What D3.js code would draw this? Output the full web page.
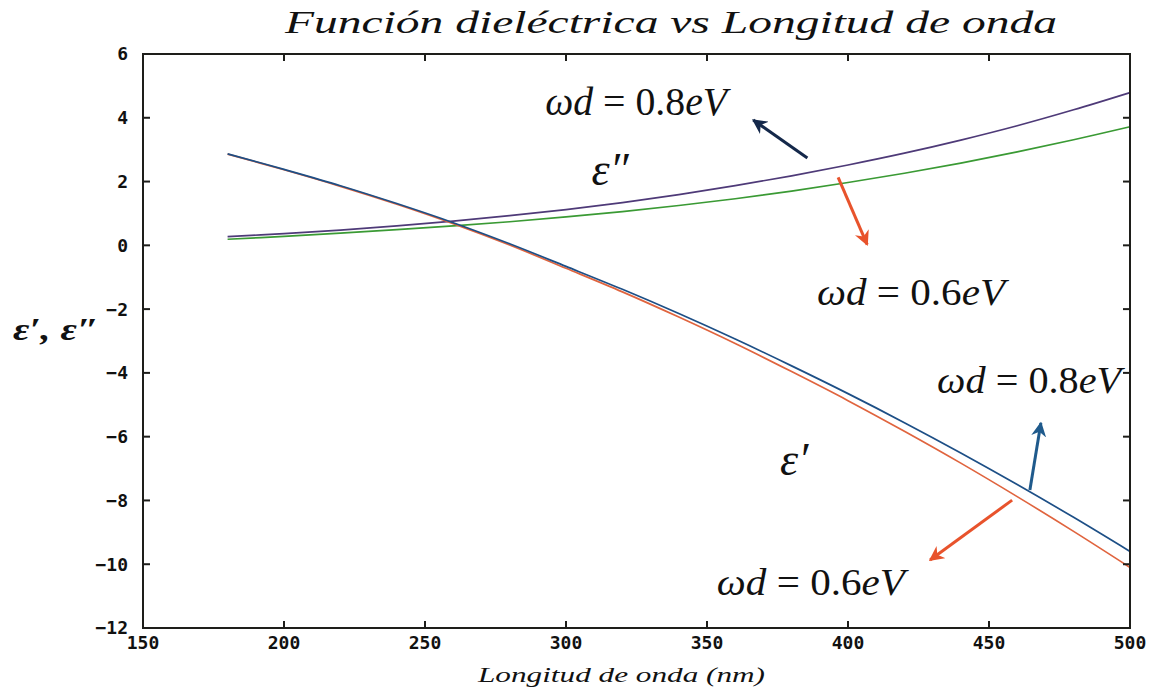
<!DOCTYPE html>
<html>
<head>
<meta charset="utf-8">
<script src="https://cdn.jsdelivr.net/npm/d3@7"></script>
<style>
  body { margin: 0; background: #fff; }
</style>
</head>
<body>
<script>
// ---------------- data ----------------
var wavelengths = [180, 200, 220, 240, 260, 280, 300, 320, 340, 360, 380, 400, 420, 440, 460, 480, 500];

// eps' (real part)
var epsReal08 = [2.87, 2.38, 1.87, 1.31, 0.71, 0.05, -0.66, -1.38, -2.14, -2.94, -3.78, -4.65, -5.56, -6.51, -7.50, -8.53, -9.60];
var epsReal06 = [2.86, 2.37, 1.85, 1.29, 0.68, 0.01, -0.72, -1.46, -2.25, -3.08, -3.96, -4.87, -5.83, -6.83, -7.88, -8.97, -10.10];

// eps'' (imaginary part)
var epsImag08 = [0.27, 0.37, 0.48, 0.61, 0.76, 0.93, 1.12, 1.34, 1.59, 1.87, 2.18, 2.52, 2.89, 3.30, 3.75, 4.25, 4.79];
var epsImag06 = [0.19, 0.28, 0.38, 0.49, 0.61, 0.74, 0.89, 1.06, 1.25, 1.46, 1.70, 1.97, 2.26, 2.58, 2.93, 3.31, 3.72];

var xTicks = [150, 200, 250, 300, 350, 400, 450, 500];
var yTicks = [-12, -10, -8, -6, -4, -2, 0, 2, 4, 6];

var title = "Función dieléctrica vs Longitud de onda";
var xLabel = "Longitud de onda (nm)";

// ---------------- setup ----------------
var width = 1157, height = 692;
var plotLeft = 143, plotRight = 1130, plotTop = 54, plotBottom = 628;

var svg = d3.select("body").append("svg")
  .attr("width", width)
  .attr("height", height)
  .style("background", "#fff");

var x = d3.scaleLinear().domain([150, 500]).range([plotLeft, plotRight]);
var y = d3.scaleLinear().domain([-12, 6]).range([plotBottom, plotTop]);

var tickFont = "'DejaVu Sans Mono', monospace";
var serif = "'Liberation Serif', 'DejaVu Serif', serif";

// arrow head marker
function marker(id, color) {
  svg.append("defs").append("marker")
    .attr("id", id)
    .attr("viewBox", "0 0 10 10")
    .attr("refX", 9).attr("refY", 5)
    .attr("markerWidth", 5).attr("markerHeight", 5)
    .attr("orient", "auto")
    .append("path")
    .attr("d", "M0,0 L10,5 L0,10 L3,5 Z")
    .attr("fill", color);
}
marker("headNavy", "#14284a");
marker("headRed", "#e8532c");
marker("headBlue", "#1f5a8c");

// ---------------- curves ----------------
var line = d3.line()
  .x(function(d) { return x(d[0]); })
  .y(function(d) { return y(d[1]); })
  .curve(d3.curveCatmullRom.alpha(0.5));

var series = [
  { vals: epsImag06, color: "#3a9a34" },
  { vals: epsImag08, color: "#4e3a78" },
  { vals: epsReal06, color: "#e0643e" },
  { vals: epsReal08, color: "#1d4f86" }
];

svg.selectAll("path.curve")
  .data(series)
  .enter().append("path")
  .attr("class", "curve")
  .attr("d", function(s) { return line(d3.zip(wavelengths, s.vals)); })
  .attr("fill", "none")
  .attr("stroke", function(s) { return s.color; })
  .attr("stroke-width", 1.7);

// ---------------- frame and ticks ----------------
var tickLen = 7;
var frame = svg.append("g").attr("stroke", "#1e1e1a").attr("stroke-width", 2);

frame.append("rect")
  .attr("x", plotLeft).attr("y", plotTop)
  .attr("width", plotRight - plotLeft).attr("height", plotBottom - plotTop)
  .attr("fill", "none");

xTicks.forEach(function(t) {
  frame.append("line").attr("x1", x(t)).attr("x2", x(t)).attr("y1", plotBottom).attr("y2", plotBottom - tickLen);
  frame.append("line").attr("x1", x(t)).attr("x2", x(t)).attr("y1", plotTop).attr("y2", plotTop + tickLen);
});
yTicks.forEach(function(t) {
  frame.append("line").attr("x1", plotLeft).attr("x2", plotLeft + tickLen).attr("y1", y(t)).attr("y2", y(t));
  frame.append("line").attr("x1", plotRight).attr("x2", plotRight - tickLen).attr("y1", y(t)).attr("y2", y(t));
});

svg.append("g").selectAll("text")
  .data(xTicks)
  .enter().append("text")
  .attr("x", function(d) { return x(d); })
  .attr("y", plotBottom + 21)
  .attr("text-anchor", "middle")
  .style("font-family", tickFont)
  .style("font-weight", "bold")
  .style("font-size", "18px")
  .attr("fill", "#111")
  .text(function(d) { return d; });

svg.append("g").selectAll("text")
  .data(yTicks)
  .enter().append("text")
  .attr("x", plotLeft - 15)
  .attr("y", function(d) { return y(d); })
  .attr("dy", "0.36em")
  .attr("text-anchor", "end")
  .style("font-family", tickFont)
  .style("font-weight", "bold")
  .style("font-size", "18px")
  .attr("fill", "#111")
  .text(function(d) { return d3.format("d")(d); });

// ---------------- titles ----------------
svg.append("text")
  .attr("x", 285).attr("y", 33)
  .attr("textLength", 772).attr("lengthAdjust", "spacingAndGlyphs")
  .style("font-family", serif)
  .style("font-style", "italic")
  .style("font-size", "32px")
  .attr("fill", "#111")
  .text(title);

svg.append("text")
  .attr("x", 478).attr("y", 682)
  .attr("textLength", 287).attr("lengthAdjust", "spacingAndGlyphs")
  .style("font-family", serif)
  .style("font-style", "italic")
  .style("font-size", "22px")
  .attr("fill", "#111")
  .text(xLabel);

svg.append("text")
  .attr("x", 13).attr("y", 340)
  .attr("textLength", 86).attr("lengthAdjust", "spacingAndGlyphs")
  .style("font-family", serif)
  .style("font-style", "italic")
  .style("font-weight", "bold")
  .style("font-size", "32px")
  .attr("fill", "#111")
  .text("\u03b5\u2032, \u03b5\u2033");

// ---------------- annotations (data coordinates) ----------------
function omegaLabel(lam, val, value, len, size) {
  var t = svg.append("text")
    .attr("x", x(lam)).attr("y", y(val))
    .attr("textLength", len).attr("lengthAdjust", "spacingAndGlyphs")
    .style("font-family", serif)
    .style("font-size", size + "px")
    .attr("fill", "#111");
  t.append("tspan").style("font-style", "italic").text("\u03c9d");
  t.append("tspan").text(" = " + value);
  t.append("tspan").style("font-style", "italic").text("eV");
}

omegaLabel(292.6, 4.08, "0.8", 182, 40);
omegaLabel(389.0, -1.87, "0.6", 188, 38);
omegaLabel(431.6, -4.64, "0.8", 184, 38);
omegaLabel(353.5, -10.97, "0.6", 188, 38);

svg.append("text")
  .attr("x", x(309.0)).attr("y", y(1.88))
  .style("font-family", serif)
  .style("font-style", "italic")
  .style("font-size", "46px")
  .attr("fill", "#111")
  .text("\u03b5\u2033");

svg.append("text")
  .attr("x", x(375.9)).attr("y", y(-7.2))
  .style("font-family", serif)
  .style("font-style", "italic")
  .style("font-size", "46px")
  .attr("fill", "#111")
  .text("\u03b5\u2032");

var arrows = [
  { from: [385.6, 2.74], to: [366.4, 3.93], color: "#14284a", head: "headNavy" },
  { from: [396.5, 2.13], to: [406.8, 0.02], color: "#e8532c", head: "headRed" },
  { from: [464.5, -7.67], to: [468.4, -5.57], color: "#1f5a8c", head: "headBlue" },
  { from: [458.2, -7.99], to: [429.1, -9.87], color: "#e8532c", head: "headRed" }
];

svg.selectAll("line.arrow")
  .data(arrows)
  .enter().append("line")
  .attr("class", "arrow")
  .attr("x1", function(d) { return x(d.from[0]); })
  .attr("y1", function(d) { return y(d.from[1]); })
  .attr("x2", function(d) { return x(d.to[0]); })
  .attr("y2", function(d) { return y(d.to[1]); })
  .attr("stroke", function(d) { return d.color; })
  .attr("stroke-width", 3)
  .attr("marker-end", function(d) { return "url(#" + d.head + ")"; });
</script>
</body>
</html>
